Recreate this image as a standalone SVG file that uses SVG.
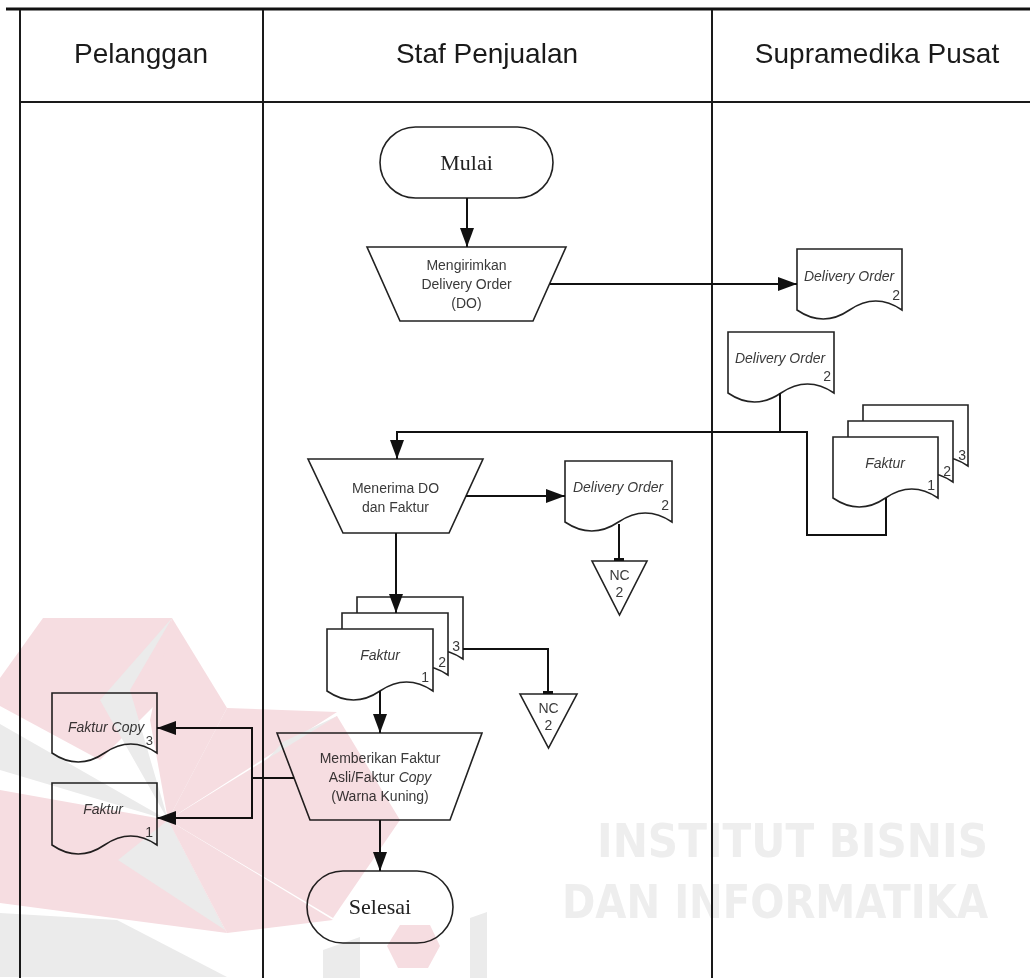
<svg xmlns="http://www.w3.org/2000/svg" width="1030" height="978" viewBox="0 0 1030 978">
<style>
.lane{stroke:#1a1a1a;stroke-width:2;fill:none}
.hdr{font-family:"Liberation Sans",Arial,sans-serif;font-size:28px;fill:#1a1a1a;text-anchor:middle}
.shape{fill:#fff;stroke:#222;stroke-width:1.6}
.conn{fill:none;stroke:#111;stroke-width:2}
.lbl{font-family:"Liberation Sans",Arial,sans-serif;font-size:14px;fill:#3a3a3a;text-anchor:middle}
.it{font-style:italic}
.num{font-family:"Liberation Sans",Arial,sans-serif;font-size:14px;fill:#3a3a3a;text-anchor:end}
.term{font-family:"Liberation Serif","Times New Roman",serif;font-size:22px;fill:#222;text-anchor:middle}
.pk{fill:#f6dde1}
.gy{fill:#ebebeb}
.wm{font-family:"DejaVu Sans",sans-serif;font-weight:bold;font-size:46px;fill:#eeeeee}
</style>
<defs>
<marker id="ah" markerUnits="userSpaceOnUse" markerWidth="19" markerHeight="14" refX="19" refY="7" orient="auto">
<path d="M0,0 L19,7 L0,14 z" fill="#111"/>
</marker>
</defs>
<rect width="1030" height="978" fill="#fff"/>

<g id="watermark-text">
<text class="wm" x="597" y="857" textLength="391" lengthAdjust="spacingAndGlyphs">INSTITUT BISNIS</text>
<text class="wm" x="562" y="918" textLength="426" lengthAdjust="spacingAndGlyphs">DAN INFORMATIKA</text>
</g>

<g id="swimlanes">
<line x1="6" y1="9" x2="1030" y2="9" stroke="#111" stroke-width="3"/>
<line class="lane" x1="20" y1="10" x2="20" y2="978"/>
<line class="lane" x1="263" y1="10" x2="263" y2="978"/>
<line class="lane" x1="712" y1="10" x2="712" y2="978"/>
<line class="lane" x1="20" y1="102" x2="1030" y2="102"/>
<text class="hdr" x="141" y="63">Pelanggan</text>
<text class="hdr" x="487" y="63">Staf Penjualan</text>
<text class="hdr" x="877" y="63">Supramedika Pusat</text>
</g>

<g id="mulai">
<rect class="shape" x="380" y="127" width="173" height="71" rx="35.5"/>
<text class="term" x="466.5" y="170">Mulai</text>
</g>

<g id="mengirimkan">
<polygon class="shape" points="367,247 566,247 533,321 400,321"/>
<text class="lbl" x="466.5" y="270">Mengirimkan</text>
<text class="lbl" x="466.5" y="289">Delivery Order</text>
<text class="lbl" x="466.5" y="308">(DO)</text>
</g>

<g id="do-pusat-1">
<path class="shape" d="M797,249 H902 V310 Q875.75,292 849.5,310 T797,310 Z"/>
<text class="lbl it" x="849" y="281">Delivery Order</text>
<text class="num" x="900" y="300">2</text>
</g>

<g id="do-pusat-2">
<path class="shape" d="M728,332 H834 V393 Q807.5,375 781,393 T728,393 Z"/>
<text class="lbl it" x="780" y="363">Delivery Order</text>
<text class="num" x="831" y="381">2</text>
</g>

<g id="faktur-pusat">
<path class="shape" d="M863,405 H968 V466 Q941.75,448 915.5,466 T863,466 Z"/>
<path class="shape" d="M848,421 H953 V482 Q926.75,464 900.5,482 T848,482 Z"/>
<path class="shape" d="M833,437 H938 V498 Q911.75,480 885.5,498 T833,498 Z"/>
<text class="lbl it" x="885" y="468">Faktur</text>
<text class="num" x="935" y="490">1</text>
<text class="num" x="951" y="476">2</text>
<text class="num" x="966" y="460">3</text>
</g>

<g id="menerima">
<polygon class="shape" points="308,459 483,459 449,533 343,533"/>
<text class="lbl" x="395.5" y="493">Menerima DO</text>
<text class="lbl" x="395.5" y="512">dan Faktur</text>
</g>

<g id="do-staf">
<path class="shape" d="M565,461 H672 V522 Q645.25,504 618.5,522 T565,522 Z"/>
<text class="lbl it" x="618" y="492">Delivery Order</text>
<text class="num" x="669" y="510">2</text>
</g>

<g id="nc-1">
<polygon class="shape" points="592,561 647,561 619.5,615"/>
<text class="lbl" x="619.5" y="580">NC</text>
<text class="lbl" x="619.5" y="597">2</text>
</g>

<g id="faktur-staf">
<path class="shape" d="M357,597 H463 V659 Q436.5,641 410,659 T357,659 Z"/>
<path class="shape" d="M342,613 H448 V675 Q421.5,657 395,675 T342,675 Z"/>
<path class="shape" d="M327,629 H433 V691 Q406.5,673 380,691 T327,691 Z"/>
<text class="lbl it" x="380" y="660">Faktur</text>
<text class="num" x="429" y="682">1</text>
<text class="num" x="446" y="667">2</text>
<text class="num" x="460" y="651">3</text>
</g>

<g id="nc-2">
<polygon class="shape" points="520,694 577,694 548.5,748"/>
<text class="lbl" x="548.5" y="713">NC</text>
<text class="lbl" x="548.5" y="730">2</text>
</g>

<g id="memberikan">
<polygon class="shape" points="277,733 482,733 450,820 310,820"/>
<text class="lbl" x="380" y="763">Memberikan Faktur</text>
<text class="lbl" x="380" y="782">Asli/Faktur <tspan class="it">Copy</tspan></text>
<text class="lbl" x="380" y="801">(Warna Kuning)</text>
</g>

<g id="faktur-copy">
<path class="shape" d="M52,693 H157 V753 Q130.75,735 104.5,753 T52,753 Z"/>
<text class="lbl it" x="68" y="732" style="text-anchor:start">Faktur Copy</text>
<text class="num" x="153" y="745" style="font-size:13px">3</text>
</g>

<g id="faktur-asli">
<path class="shape" d="M52,783 H157 V845 Q130.75,827 104.5,845 T52,845 Z"/>
<text class="lbl it" x="103" y="814">Faktur</text>
<text class="num" x="153" y="837">1</text>
</g>

<g id="selesai">
<rect class="shape" x="307" y="871" width="146" height="72" rx="36"/>
<text class="term" x="380" y="914">Selesai</text>
</g>

<g id="connectors">
<line class="conn" x1="467" y1="198" x2="467" y2="247" marker-end="url(#ah)"/>
<line class="conn" x1="550" y1="284" x2="797" y2="284" marker-end="url(#ah)"/>
<path class="conn" d="M780,393 V432 H397 V459" marker-end="url(#ah)"/>
<path class="conn" d="M780,432 H807 V535 H886 V498"/>
<line class="conn" x1="466" y1="496" x2="565" y2="496" marker-end="url(#ah)"/>
<line class="conn" x1="619" y1="524" x2="619" y2="559"/>
<rect x="614" y="558" width="10" height="3" fill="#111"/>
<line class="conn" x1="396" y1="533" x2="396" y2="613" marker-end="url(#ah)"/>
<path class="conn" d="M463,649 H548 V692"/>
<rect x="543" y="691" width="10" height="3" fill="#111"/>
<line class="conn" x1="380" y1="691" x2="380" y2="733" marker-end="url(#ah)"/>
<path class="conn" d="M294,778 H252"/>
<path class="conn" d="M252,728 H157" marker-end="url(#ah)"/>
<path class="conn" d="M252,818 H157" marker-end="url(#ah)"/>
<line class="conn" x1="252" y1="727" x2="252" y2="819"/>
<line class="conn" x1="380" y1="820" x2="380" y2="871" marker-end="url(#ah)"/>
</g>

<g id="watermark-logo" style="mix-blend-mode:multiply">
<polygon class="pk" points="43,618 172,618 160,700 100,760 0,706 0,678"/>
<polygon class="gy" points="172,618 100,700 168,820 130,690"/>
<polygon class="pk" points="172,618 227,708 168,820 150,720"/>
<polygon class="gy" points="0,724 168,820 0,770"/>
<polygon class="pk" points="227,708 337,712 168,820"/>
<polygon class="gy" points="283,742 337,716 333,915 230,800"/>
<polygon class="pk" points="337,716 400,820 333,918 168,820"/>
<polygon class="pk" points="0,790 168,820 227,933 0,903"/>
<polygon class="gy" points="168,820 118,860 225,930"/>
<polygon class="gy" points="0,913 117,920 227,977 0,977"/>
<polygon class="pk" points="168,820 333,920 227,933"/>
<polygon class="pk" points="400,925 430,925 440,946 428,968 398,968 387,946"/>
<polygon class="gy" points="323,950 360,937 360,978 323,978"/>
<polygon class="gy" points="470,918 487,912 487,978 470,978"/>
</g>
</svg>
